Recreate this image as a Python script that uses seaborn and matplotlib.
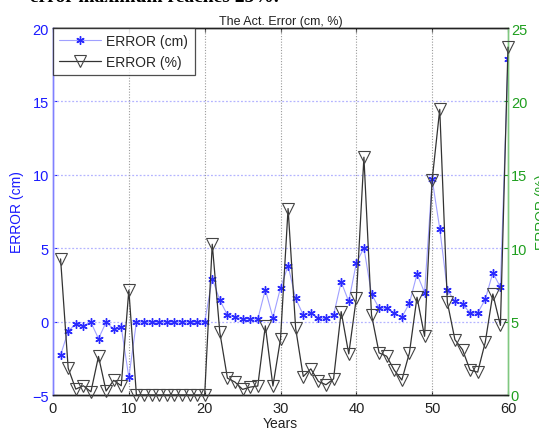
import numpy as np
import pandas as pd
import matplotlib
matplotlib.use("Agg")
import matplotlib.pyplot as plt
import seaborn as sns
from matplotlib.lines import Line2D

years = list(range(1, 61))
error_cm = [-2.28, -0.65, -0.16, -0.27, -0.05, -1.16, -0.05, -0.50, -0.38, -3.80,
            -0.03, -0.03, -0.03, -0.03, -0.03, -0.03, -0.03, -0.03, -0.03, -0.03,
            2.93, 1.46, 0.45, 0.32, 0.16, 0.20, 0.16, 2.18, 0.27, 2.30,
            3.80, 1.58, 0.45, 0.60, 0.22, 0.22, 0.45, 2.70, 1.37, 4.00,
            5.02, 1.88, 0.91, 0.91, 0.58, 0.30, 1.25, 3.24, 1.97, 9.70,
            6.33, 2.16, 1.37, 1.20, 0.58, 0.58, 1.52, 3.33, 2.34, 17.90]
error_pct = [9.27, 1.83, 0.40, 0.63, 0.22, 2.63, 0.27, 1.00, 0.63, 7.14,
             0.0, 0.0, 0.0, 0.0, 0.0, 0.0, 0.0, 0.0, 0.0, 0.0,
             10.27, 4.26, 1.15, 0.88, 0.38, 0.54, 0.61, 4.71, 0.61, 3.81,
             12.70, 4.53, 1.26, 1.78, 0.92, 0.70, 1.10, 5.68, 2.80, 6.60,
             16.20, 5.46, 2.87, 2.64, 1.69, 1.02, 2.87, 6.66, 4.00, 14.65,
             19.46, 6.32, 3.77, 3.09, 1.69, 1.56, 3.59, 6.88, 4.74, 23.70]
xticks = [0, 10, 20, 30, 40, 50, 60]
yticks_left = [-5, 0, 5, 10, 15, 20]
yticks_right = [0, 5, 10, 15, 20, 25]

df = pd.DataFrame({"Years": years, "cm": error_cm, "pct": error_pct})

sns.set_style("white")
plt.rcParams['font.family'] = ['Liberation Sans', 'DejaVu Sans']

fig = plt.figure(figsize=(5.39, 4.35), dpi=100)
ax = fig.add_axes([53/539, 1 - 396/435, (508 - 53)/539, (396 - 29)/435])
ax2 = ax.twinx()

blue_txt = '#1a1aff'
blue_sp = '#8080ff'
green_txt = '#1f9f1f'
green_sp = '#80c880'

ast = (6, 2, 0)
sns.lineplot(data=df, x="Years", y="cm", ax=ax, color='#a0a0ff', linewidth=0.8,
             marker=ast, markersize=6, markeredgecolor='#2a2aff', markeredgewidth=1.0,
             legend=False, zorder=3)
sns.lineplot(data=df, x="Years", y="pct", ax=ax2, color='#333333', linewidth=0.9,
             marker='v', markersize=9, markerfacecolor='none', markeredgecolor='#444444',
             markeredgewidth=0.8, legend=False, clip_on=False, zorder=4)

ax.set_xlim(0, 60)
ax.set_ylim(-5, 20)
ax2.set_ylim(0, 25)
ax.set_xticks(xticks)
ax.set_yticks(yticks_left)
ax2.set_yticks(yticks_right)

# grids
for y in [0, 5, 10, 15]:
    ax.axhline(y, color='#b4b4ff', linestyle=(0, (1.5, 1.5)), linewidth=0.9, zorder=1)
for x in [10, 20, 30, 40, 50]:
    ax.axvline(x, color='#9a9a9a', linestyle=(0, (1, 1.5)), linewidth=0.8, zorder=1)

ax.tick_params(axis='x', direction='in', length=3, top=True, bottom=True,
               labelsize=10.5, colors='#222222', pad=4)
ax.tick_params(axis='y', direction='in', length=3, colors=blue_txt, labelsize=10.5, pad=3)
ax2.tick_params(axis='y', direction='in', length=3, colors=green_txt, labelsize=10.5, pad=2)

for s in ['top', 'bottom']:
    ax.spines[s].set_color('#222222')
    ax2.spines[s].set_color('#222222')
ax.spines['left'].set_color(blue_sp)
ax2.spines['left'].set_color(blue_sp)
ax2.spines['right'].set_color(green_sp)
ax.spines['right'].set_color(green_sp)
for a in (ax, ax2):
    for s in a.spines.values():
        s.set_linewidth(1.0)

ax.set_xlabel("Years", fontsize=10, color='#222222', labelpad=1)
ax.set_ylabel("ERROR (cm)", fontsize=10, color=blue_txt, labelpad=6)
ax2.set_ylabel("ERROR (%)", fontsize=10, color=green_txt, labelpad=6)
ax.set_title("The Act. Error (cm, %)", fontsize=9, color='#222222', pad=3)

fig.text(0.055, 1 - 1.5/435, "error maximum reaches 25%.", fontsize=14, fontweight='bold',
         family=['Liberation Serif', 'DejaVu Serif'], va='baseline', ha='left', color='black')

handles = [Line2D([], [], color='#a0a0ff', linewidth=0.8, marker=ast, markersize=6,
                  markeredgecolor='#2a2aff', markeredgewidth=1.0),
           Line2D([], [], color='#333333', linewidth=0.9, marker='v', markersize=9,
                  markerfacecolor='none', markeredgecolor='#444444', markeredgewidth=0.8)]
leg = ax2.legend(handles, ["ERROR (cm)", "ERROR (%)"], loc='upper left',
                 bbox_to_anchor=(0, 1), fontsize=10, frameon=True, fancybox=False,
                 borderaxespad=0, handlelength=3.0, borderpad=0.45, labelspacing=0.45,
                 handletextpad=0.4)
leg.get_frame().set_edgecolor('#222222')
leg.get_frame().set_linewidth(0.9)

fig.savefig("out.png", dpi=100)
